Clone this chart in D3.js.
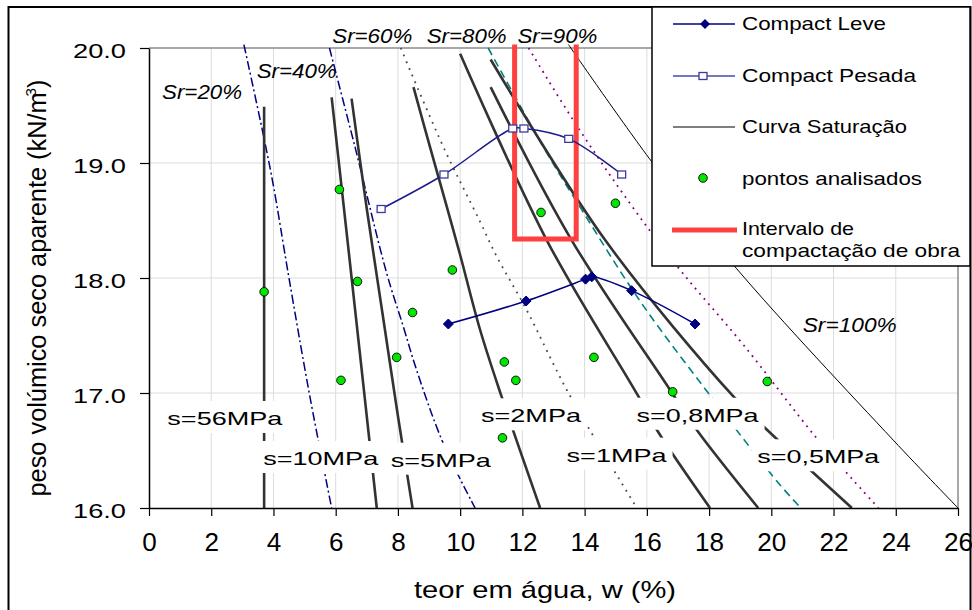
<!DOCTYPE html>
<html>
<head>
<meta charset="utf-8">
<title>Compactação - teor em água vs peso volúmico seco</title>
<script src="https://cdnjs.cloudflare.com/ajax/libs/d3/7.8.5/d3.min.js"></script>
<style>
  body { margin: 0; background: #fff; }
  svg text { font-family: "Liberation Sans", Arial, sans-serif; fill: #000; }
</style>
</head>
<body>
<svg id="chart" width="972" height="610"></svg>
<script>
// axis ticks
var xTicks = [0, 2, 4, 6, 8, 10, 12, 14, 16, 18, 20, 22, 24, 26];
var yTicks = [16, 17, 18, 19, 20];

// saturation curves as [w %, gamma kN/m3]
var srNames = ["Sr=20%", "Sr=40%", "Sr=60%", "Sr=80%", "Sr=90%", "Sr=100%"];
var sr20 = [[3.05, 20.03], [3.67, 19.25], [4.0, 18.8], [4.48, 18.03], [5.17, 16.97], [5.87, 16.0]];
var sr40 = [[5.8, 20.0], [6.62, 19.14], [7.64, 18.04], [8.17, 17.58], [8.6, 17.2], [9.46, 16.56], [10.48, 16.0]];
var sr60 = [[8.09, 20.0], [9.46, 19.14], [10.64, 18.49], [11.17, 18.19], [12.14, 17.72], [13.48, 17.0], [15.68, 16.0]];
var sr80 = [[10.9, 20.0], [12.78, 19.09], [13.96, 18.57], [15.78, 17.8], [18.03, 16.98], [20.22, 16.22], [20.95, 16.0]];
var sr90 = [[12.2, 20.0], [13.64, 19.37], [15.4, 18.67], [17.07, 18.07], [19.1, 17.42], [21.51, 16.59], [23.44, 16.0]];
var sr100 = [[13.48, 20.03], [16.16, 19.01], [18.89, 18.08], [23.92, 16.59], [26.0, 16.0]];

// suction curves
var sNames = ["s=56MPa", "s=10MPa", "s=5MPa", "s=2MPa", "s=1MPa", "s=0,8MPa", "s=0,5MPa"];
var s56 = [[3.7, 19.49], [3.7, 16.0]];
var s10 = [[5.87, 19.57], [6.5, 18.03], [7.32, 16.0]];
var s5 = [[6.51, 19.56], [7.0, 18.6], [7.5, 17.7], [8.0, 16.8], [8.47, 16.0]];
var s2 = [[8.5, 19.66], [9.03, 19.14], [9.57, 18.62], [10.0, 18.2], [10.64, 17.55], [11.33, 16.97], [12.57, 16.0]];
var s1 = [[10.0, 19.95], [12.78, 18.33], [15.73, 16.97], [16.32, 16.68], [18.03, 16.0]];
var s08 = [[10.98, 19.66], [13.58, 18.33], [16.69, 17.05], [17.6, 16.68], [19.58, 16.0]];
var s05 = [[10.98, 19.9], [14.66, 18.33], [18.78, 16.97], [19.86, 16.68], [22.59, 16.0]];

// compaction tests
var leveW = [9.62, 12.12, 14.03, 14.23, 15.51, 17.55];
var leveG = [17.60, 17.80, 17.99, 18.01, 17.89, 17.60];
var pesadaW = [7.46, 9.48, 11.69, 12.05, 13.49, 15.19];
var pesadaG = [18.60, 18.90, 19.30, 19.30, 19.21, 18.90];

// analysed points
var pontosW = [3.70, 6.12, 12.60, 14.99, 9.75, 6.70, 8.47, 7.96, 6.17, 11.42, 11.79, 14.30, 11.36, 16.83, 19.87];
var pontosG = [17.88, 18.77, 18.57, 18.65, 18.07, 17.97, 17.70, 17.31, 17.11, 17.27, 17.11, 17.31, 16.61, 17.01, 17.10];

// site compaction interval
var intervalW = [11.75, 11.75, 13.73, 13.73];
var intervalG = [20.03, 18.34, 18.34, 20.03];

var legendNames = ["Compact Leve", "Compact Pesada", "Curva Saturação", "pontos analisados", "Intervalo de", "compactação de obra"];

var svg = d3.select("#chart");
var x = d3.scaleLinear().domain([0, 26]).range([149, 958]);
var y = d3.scaleLinear().domain([16, 20]).range([508, 48]);

function fit(sel, w) {
  return sel.attr("textLength", w).attr("lengthAdjust", "spacingAndGlyphs");
}

svg.append("rect").attr("width", 972).attr("height", 610).attr("fill", "#fff");
svg.append("rect").attr("x", 8.5).attr("y", 7).attr("width", 962).attr("height", 620)
  .attr("fill", "none").attr("stroke", "#000").attr("stroke-width", 2);

// gridlines
svg.append("g").selectAll("line").data(xTicks.slice(1, -1)).join("line")
  .attr("x1", d => x(d)).attr("x2", d => x(d)).attr("y1", y(20)).attr("y2", y(16))
  .attr("stroke", "#dcdcdc").attr("stroke-width", 1);
svg.append("g").selectAll("line").data(yTicks.slice(1, -1)).join("line")
  .attr("x1", x(0)).attr("x2", x(26)).attr("y1", d => y(d)).attr("y2", d => y(d))
  .attr("stroke", "#dcdcdc").attr("stroke-width", 1);
svg.append("path")
  .attr("d", "M" + x(0) + "," + y(20) + "H" + x(26) + "V" + y(16))
  .attr("fill", "none").attr("stroke", "#8c8c8c").attr("stroke-width", 1.5);

var line = d3.line().x(d => x(d[0])).y(d => y(d[1])).curve(d3.curveCatmullRom.alpha(0.5));

// saturation lines
var srStyles = [
  {c: "#000080", w: 1.5, dash: "9,3,2,3"},
  {c: "#000080", w: 1.5, dash: "9,3,2,3"},
  {c: "#4a4a4a", w: 1.8, dash: "1.8,5.5"},
  {c: "#008080", w: 1.6, dash: "8,5"},
  {c: "#800080", w: 1.8, dash: "1.8,5"},
  {c: "#000000", w: 1, dash: null}
];
[sr20, sr40, sr60, sr80, sr90, sr100].forEach(function (d, i) {
  svg.append("path").attr("d", line(d)).attr("fill", "none")
    .attr("stroke", srStyles[i].c).attr("stroke-width", srStyles[i].w)
    .attr("stroke-dasharray", srStyles[i].dash);
});

// suction lines
[s56, s10, s5, s2, s1, s08, s05].forEach(function (d) {
  svg.append("path").attr("d", line(d)).attr("fill", "none")
    .attr("stroke", "#333").attr("stroke-width", 2.6);
});

// interval
svg.append("path")
  .attr("d", d3.line().x(d => x(d[0])).y(d => y(d[1]))(d3.zip(intervalW, intervalG)))
  .attr("fill", "none").attr("stroke", "#ff4040").attr("stroke-width", 5)
  .attr("stroke-linejoin", "miter");

// compaction curves
var leve = d3.zip(leveW, leveG), pesada = d3.zip(pesadaW, pesadaG);
svg.append("path").attr("d", line(pesada)).attr("fill", "none")
  .attr("stroke", "#1c1c8c").attr("stroke-width", 1.5);
svg.append("path").attr("d", line(leve)).attr("fill", "none")
  .attr("stroke", "#000080").attr("stroke-width", 1.5);

var diamond = "M0,-5L5,0L0,5L-5,0Z";
svg.append("g").selectAll("path").data(leve).join("path")
  .attr("d", diamond).attr("transform", d => "translate(" + x(d[0]) + "," + y(d[1]) + ")")
  .attr("fill", "#000080").attr("stroke", "#000080");
svg.append("g").selectAll("rect").data(pesada).join("rect")
  .attr("x", d => x(d[0]) - 4).attr("y", d => y(d[1]) - 3.5).attr("width", 8).attr("height", 7)
  .attr("fill", "#fff").attr("stroke", "#3a3a9e").attr("stroke-width", 1.3);

// analysed points
svg.append("g").selectAll("circle").data(d3.zip(pontosW, pontosG)).join("circle")
  .attr("cx", d => x(d[0])).attr("cy", d => y(d[1])).attr("r", 4.3)
  .attr("fill", "#00e600").attr("stroke", "#000").attr("stroke-width", 0.9);

// axes
var xAxis = svg.append("g").attr("transform", "translate(0," + y(16) + ")")
  .call(d3.axisBottom(x).tickValues(xTicks).tickSize(8).tickSizeOuter(0).tickFormat(d3.format("d")));
var yAxis = svg.append("g").attr("transform", "translate(" + x(0) + ",0)")
  .call(d3.axisLeft(y).tickValues(yTicks).tickSize(9).tickSizeOuter(0).tickFormat(d3.format(".1f")));
[xAxis, yAxis].forEach(function (a) {
  a.select(".domain").attr("stroke", "#000").attr("stroke-width", 1.5);
  a.selectAll(".tick line").attr("stroke", "#000").attr("stroke-width", 1.2);
});
xAxis.selectAll("text").attr("y", 43).attr("dy", null).attr("font-size", 25)
  .each(function (d) { fit(d3.select(this), String(d).length * 14.5); });
yAxis.selectAll("text").attr("x", -23).attr("dy", null).attr("y", 9).attr("font-size", 19.5)
  .each(function () { fit(d3.select(this), 53); });

// axis titles
fit(svg.append("text").attr("x", 545).attr("y", 598).attr("text-anchor", "middle")
  .attr("font-size", 24).text("teor em água, w (%)"), 262);
var yt = svg.append("text").attr("transform", "translate(46,288) rotate(-90)")
  .attr("text-anchor", "middle").attr("font-size", 25);
yt.append("tspan").text("peso volúmico seco aparente (kN/m");
yt.append("tspan").attr("font-size", 15).attr("dy", -10).attr("dx", -4).text("3");
yt.append("tspan").attr("dy", 10).text(")");
fit(yt, 417);

// Sr labels (left edge, baseline in data units)
var srLabelAt = [[0.42, 19.557], [3.46, 19.737], [5.89, 20.041], [8.925, 20.041], [11.84, 20.041], [21.01, 17.528]];
srNames.forEach(function (t, i) {
  fit(svg.append("text").attr("x", x(srLabelAt[i][0])).attr("y", y(srLabelAt[i][1]))
    .attr("font-size", 19.5).attr("font-style", "italic").text(t), t.length > 6 ? 94 : 80);
});

// s labels with white boxes
var sLabelAt = [[0.59, 16.722], [3.67, 16.374], [7.77, 16.359], [10.67, 16.745], [13.42, 16.403], [15.67, 16.75], [19.55, 16.389]];
var sLabelW = [115, 115, 100, 100, 100, 122, 122];
sNames.forEach(function (t, i) {
  var lx = x(sLabelAt[i][0]), ly = y(sLabelAt[i][1]);
  svg.append("rect").attr("x", lx - 6).attr("y", ly - 24).attr("width", sLabelW[i] + 12).attr("height", 32)
    .attr("fill", "#fff");
  fit(svg.append("text").attr("x", lx).attr("y", ly).attr("font-size", 19).text(t), sLabelW[i]);
});

// legend
var lg = svg.append("g");
lg.append("rect").attr("x", 652).attr("y", 7).attr("width", 318).attr("height", 259)
  .attr("fill", "#fff").attr("stroke", "#000").attr("stroke-width", 1.5);
var rowY = [24, 76, 127, 178, 230];
lg.append("line").attr("x1", 673).attr("x2", 735).attr("y1", rowY[0]).attr("y2", rowY[0])
  .attr("stroke", "#000080").attr("stroke-width", 1.5);
lg.append("path").attr("d", diamond).attr("transform", "translate(705," + rowY[0] + ")").attr("fill", "#000080");
lg.append("line").attr("x1", 673).attr("x2", 735).attr("y1", rowY[1]).attr("y2", rowY[1])
  .attr("stroke", "#4a4aaa").attr("stroke-width", 1.5);
lg.append("rect").attr("x", 699).attr("y", rowY[1] - 3.5).attr("width", 8).attr("height", 7)
  .attr("fill", "#fff").attr("stroke", "#3a3a9e").attr("stroke-width", 1.3);
lg.append("line").attr("x1", 673).attr("x2", 735).attr("y1", rowY[2]).attr("y2", rowY[2])
  .attr("stroke", "#000").attr("stroke-width", 1);
lg.append("circle").attr("cx", 703).attr("cy", rowY[3]).attr("r", 4.3)
  .attr("fill", "#00e600").attr("stroke", "#000").attr("stroke-width", 0.9);
lg.append("line").attr("x1", 672).attr("x2", 737).attr("y1", rowY[4]).attr("y2", rowY[4])
  .attr("stroke", "#ff4040").attr("stroke-width", 5);
var legBase = [30, 81.5, 132.5, 184.5, 235, 257];
var legW = [144, 174, 165, 180, 112, 218];
legendNames.forEach(function (t, i) {
  fit(lg.append("text").attr("x", 742).attr("y", legBase[i]).attr("font-size", 19).text(t), legW[i]);
});
</script>
</body>
</html>
